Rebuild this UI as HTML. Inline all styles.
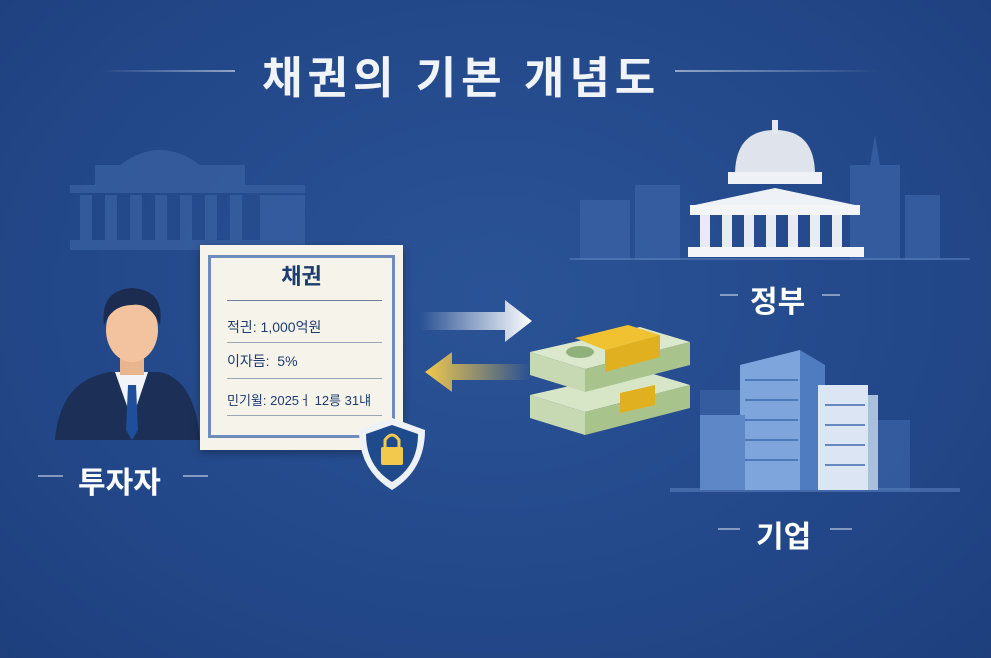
<!DOCTYPE html>
<html><head><meta charset="utf-8"><style>
body{margin:0;width:991px;height:658px;overflow:hidden;background:radial-gradient(ellipse at 50% 45%,#2a5396 0%,#23488a 60%,#1e3f7c 100%);font-family:"Liberation Sans","Noto Sans CJK KR",sans-serif;position:relative}
.a{position:absolute}
.lbl{color:#fff;font-weight:bold;font-size:30px}
.ln{height:2px;background:rgba(255,255,255,.45)}
</style></head><body>
<div class="a lbl" style="left:262px;top:42px;font-size:44px;letter-spacing:5px;color:#f0f3f8">채권의 기본 개념도</div>
<div class="a ln" style="left:100px;top:70px;width:135px;background:linear-gradient(90deg,transparent,rgba(255,255,255,.5))"></div>
<div class="a ln" style="left:675px;top:70px;width:205px;background:linear-gradient(90deg,rgba(255,255,255,.5),transparent)"></div>

<svg class="a" style="left:0;top:0" width="991" height="658">
<g fill="#3b62a3" opacity=".7">
<path d="M120 165 Q160 135 200 165 Z"/>
<rect x="95" y="165" width="150" height="20"/>
<rect x="70" y="185" width="235" height="8"/>
<rect x="70" y="240" width="235" height="10"/>
<g fill="#3b62a3"><rect x="80" y="195" width="12" height="45"/><rect x="105" y="195" width="12" height="45"/><rect x="130" y="195" width="12" height="45"/><rect x="155" y="195" width="12" height="45"/><rect x="180" y="195" width="12" height="45"/><rect x="205" y="195" width="12" height="45"/><rect x="230" y="195" width="12" height="45"/><rect x="260" y="195" width="45" height="45"/></g>
</g>
<g fill="#3a62a4" opacity=".75">
<rect x="580" y="200" width="50" height="60"/><rect x="635" y="185" width="45" height="75"/>
<rect x="850" y="165" width="50" height="95"/><path d="M875 135 L880 165 L870 165Z"/><rect x="905" y="195" width="35" height="65"/>
<rect x="700" y="390" width="50" height="100"/><rect x="870" y="420" width="40" height="70"/>
</g>
<rect x="570" y="258" width="400" height="2" fill="#5a7fbc" opacity=".6"/>
<g>
<path d="M735 175 Q735 130 775 130 Q815 130 815 175Z" fill="#dfe4ec"/>
<rect x="772" y="120" width="6" height="14" fill="#e6eaf0"/>
<rect x="728" y="172" width="94" height="12" fill="#eef1f5"/>
<path d="M695 205 L775 188 L855 205Z" fill="#eef1f5"/>
<rect x="690" y="205" width="170" height="10" fill="#f3f5f8"/>
<g fill="#e8ecf2"><rect x="700" y="215" width="10" height="32"/><rect x="722" y="215" width="10" height="32"/><rect x="744" y="215" width="10" height="32"/><rect x="766" y="215" width="10" height="32"/><rect x="788" y="215" width="10" height="32"/><rect x="810" y="215" width="10" height="32"/><rect x="832" y="215" width="10" height="32"/></g>
<rect x="688" y="247" width="176" height="10" fill="#f3f5f8"/>
</g>
<g>
<rect x="670" y="488" width="290" height="4" fill="#5a7fbc" opacity=".6"/>
<path d="M740 365 L800 350 L800 490 L740 490Z" fill="#7fa6dc"/>
<path d="M800 350 L825 365 L825 490 L800 490Z" fill="#4f7cc0"/>
<rect x="818" y="385" width="50" height="105" fill="#dbe5f3"/>
<rect x="868" y="395" width="10" height="95" fill="#a9bfde"/>
<rect x="700" y="415" width="45" height="75" fill="#5d87c6"/>
<g stroke="#3c6aae" stroke-width="1.5"><line x1="745" y1="380" x2="798" y2="380"/><line x1="745" y1="400" x2="798" y2="400"/><line x1="745" y1="420" x2="798" y2="420"/><line x1="745" y1="440" x2="798" y2="440"/><line x1="745" y1="460" x2="798" y2="460"/><line x1="825" y1="405" x2="865" y2="405"/><line x1="825" y1="425" x2="865" y2="425"/><line x1="825" y1="445" x2="865" y2="445"/><line x1="825" y1="465" x2="865" y2="465"/></g>
</g>
<g>
<path d="M55 440 Q60 380 110 372 L160 372 Q195 380 200 440Z" fill="#1c2f57"/>
<path d="M115 372 L132 420 L148 372Z" fill="#f2f4f8"/>
<path d="M128 385 L136 385 L138 430 L132 440 L126 430Z" fill="#1f4f9a"/>
<rect x="120" y="350" width="24" height="25" fill="#e8b58f"/>
<ellipse cx="132" cy="330" rx="26" ry="32" fill="#f2c39e"/>
<path d="M104 325 Q100 290 132 288 Q165 290 160 325 Q150 302 132 305 Q112 305 104 325Z" fill="#1b2c50"/>
</g>
<defs><linearGradient id="gw" x1="0" x2="1"><stop offset="0" stop-color="#fff" stop-opacity="0"/><stop offset="1" stop-color="#fff"/></linearGradient>
<linearGradient id="gy" x1="1" x2="0"><stop offset="0" stop-color="#f2c94c" stop-opacity="0"/><stop offset="1" stop-color="#f2c94c"/></linearGradient></defs>
<path d="M420 312 L505 312 L505 300 L532 321 L505 342 L505 330 L420 330Z" fill="url(#gw)"/>
<path d="M530 364 L452 364 L452 352 L425 372 L452 392 L452 380 L530 380Z" fill="url(#gy)"/>
<g>
<path d="M530 395 L640 370 L690 385 L585 412Z" fill="#d8e6c8"/>
<path d="M530 395 L585 412 L585 435 L530 418Z" fill="#c7d9b2"/>
<path d="M585 412 L690 385 L690 408 L585 435Z" fill="#a9c38c"/>
<path d="M530 352 L640 327 L690 342 L585 369Z" fill="#dbe8cb"/>
<path d="M530 352 L585 369 L585 392 L530 375Z" fill="#c7d9b2"/>
<path d="M585 369 L690 342 L690 365 L585 392Z" fill="#a9c38c"/>
<path d="M575 338 L628 325 L660 335 L605 350Z" fill="#f0c232"/>
<path d="M605 350 L660 335 L660 357 L605 372Z" fill="#e0b020"/>
<path d="M620 393 L655 385 L655 405 L620 413Z" fill="#e0b020"/>
<ellipse cx="580" cy="352" rx="14" ry="6" fill="#8fb07a"/>
</g>
</svg>

<div class="a" style="left:200px;top:245px;width:203px;height:205px;background:#f6f3ea;box-shadow:0 3px 8px rgba(0,0,0,.3)">
<div class="a" style="left:8px;top:10px;right:8px;bottom:12px;border:3px solid #6d8dbd"></div>
<div class="a" style="left:0;width:203px;top:14px;text-align:center;color:#1d3c70;font-weight:bold;font-size:22px">채권</div>
<div class="a" style="left:27px;top:55px;width:155px;height:1px;background:#6e7e96"></div>
<div class="a" style="left:27px;top:72px;font-size:14px;color:#1d3c70">적긘: 1,000억원</div>
<div class="a" style="left:27px;top:97px;width:155px;height:1px;background:#9aa5b5"></div>
<div class="a" style="left:27px;top:106px;font-size:14px;color:#1d3c70">이자듬: &nbsp;5%</div>
<div class="a" style="left:27px;top:133px;width:155px;height:1px;background:#9aa5b5"></div>
<div class="a" style="left:27px;top:145px;font-size:13px;color:#1d3c70">민기윌: 2025ㅓ 12릉 31냬</div>
<div class="a" style="left:27px;top:170px;width:155px;height:1px;background:#9aa5b5"></div>
</div>

<svg class="a" style="left:0;top:0" width="991" height="658">
<path d="M392 418 L425 430 Q425 470 392 490 Q359 470 359 430Z" fill="#eef2f7"/>
<path d="M392 425 L418 434 Q418 466 392 482 Q366 466 366 434Z" fill="#1f4b8c"/>
<rect x="381" y="447" width="22" height="18" rx="2" fill="#f2c94c"/>
<path d="M385 447 V440 Q392 430 399 440 V447" fill="none" stroke="#f2c94c" stroke-width="3"/>
</svg>

<div class="a lbl" style="left:78px;top:458px">투자자</div>
<div class="a ln" style="left:38px;top:475px;width:25px"></div>
<div class="a ln" style="left:183px;top:475px;width:25px"></div>
<div class="a lbl" style="left:750px;top:277px">정부</div>
<div class="a ln" style="left:720px;top:294px;width:18px"></div>
<div class="a ln" style="left:822px;top:294px;width:18px"></div>
<div class="a lbl" style="left:756px;top:512px">기업</div>
<div class="a ln" style="left:718px;top:528px;width:22px"></div>
<div class="a ln" style="left:830px;top:528px;width:22px"></div>
</body></html>
